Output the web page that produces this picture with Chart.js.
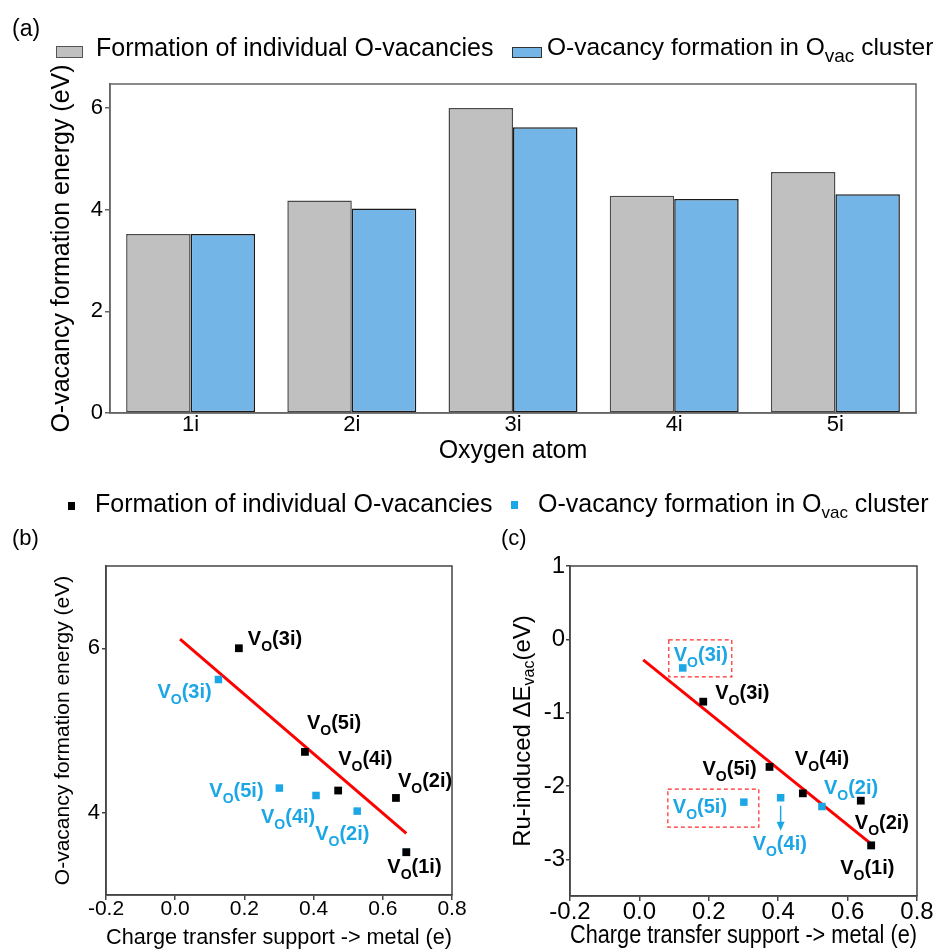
<!DOCTYPE html>
<html>
<head>
<meta charset="utf-8">
<script src="https://cdn.jsdelivr.net/npm/chart.js@4.4.0/dist/chart.umd.min.js"></script>
<style>
  body { margin: 0; width: 942px; height: 952px; background: #fff; position: relative; overflow: hidden;
         font-family: 'Liberation Sans', Arial, Helvetica, sans-serif; }
  canvas { position: absolute; }
  .txt { position: absolute; white-space: nowrap; line-height: 1; color: #000; z-index: 2; }
  .sw { position: absolute; box-sizing: border-box; z-index: 2; }
  .sub { position: relative; }
</style>
</head>
<body>
<div class="txt" style="left:12px; top:16.5px; font-size:23px;">(a)</div>
<div class="sw" style="left:56px; top:46px; width:27px; height:12px; background:#C0C0C0; border:1px solid #555;"></div>
<div class="txt" style="left:96px; top:34.8px; font-size:25px;">Formation of individual O-vacancies</div>
<div class="sw" style="left:512px; top:47px; width:30px; height:11px; background:#74B5E8; border:1px solid #333;"></div>
<div class="txt" style="left:547px; top:35.2px; font-size:24.5px;">O-vacancy formation in O<span class="sub" style="font-size:19px; top:7px;">vac</span> cluster</div>

<div class="sw" style="left:67.5px; top:502px; width:7.5px; height:7.5px; background:#000;"></div>
<div class="txt" style="left:95px; top:490.8px; font-size:25px;">Formation of individual O-vacancies</div>
<div class="sw" style="left:510.5px; top:501px; width:7.5px; height:7.5px; background:#1BA6E5;"></div>
<div class="txt" style="left:538px; top:490.8px; font-size:25px;">O-vacancy formation in O<span class="sub" style="font-size:17px; top:6px;">vac</span> cluster</div>

<div class="txt" style="left:12px; top:527.4px; font-size:22px;">(b)</div>
<div class="txt" style="left:501px; top:527.4px; font-size:22px;">(c)</div>

<canvas id="barChart" width="942" height="470" style="left:0; top:0;"></canvas>
<canvas id="chartB" width="470" height="432" style="left:0; top:520px;"></canvas>
<canvas id="chartC" width="472" height="432" style="left:470px; top:520px;"></canvas>

<script>
// ---- data ----
const categories = ['1i', '2i', '3i', '4i', '5i'];
const individualE = [3.52, 4.18, 6.00, 4.27, 4.74];     // eV, grey bars / black squares
const clusterE = [3.52, 4.02, 5.62, 4.21, 4.30];        // eV, blue bars / blue squares
const chargeIndividual = [0.668, 0.638, 0.184, 0.471, 0.375];  // e
const chargeCluster = [0.668, 0.526, 0.125, 0.407, 0.301];     // e
const dEvacIndividual = [-2.81, -2.20, -0.85, -2.10, -1.74];   // eV
const dEvacCluster = [-2.81, -2.28, -0.39, -2.16, -2.22];      // eV
const fitBx = [0.014, 0.668];
const fitBy = [6.11, 3.75];
const fitCx = [0.011, 0.665];
const fitCy = [-0.28, -2.78];
const energyTicksA = [0, 2, 4, 6];
const energyTicksB = [4, 6];
const dEvacTicks = [-3, -2, -1, 0, 1];
const chargeTicks = [-0.2, 0, 0.2, 0.4, 0.6, 0.8];

const FONT = "'Liberation Sans', Arial, Helvetica, sans-serif";
const BLUE_PT = '#1BA6E5';

const toPoints = (xs, ys) => xs.map((x, i) => ({ x: x, y: ys[i] }));
const fixedTicks = list => scale => { scale.ticks = list.map(v => ({ value: v })); };

const framePlugin = {
  id: 'frame',
  afterDatasetsDraw(chart, args, opts) {
    const { left, top, right, bottom } = chart.chartArea;
    const ctx = chart.ctx;
    ctx.save();
    ctx.strokeStyle = opts.color || '#555';
    ctx.lineWidth = 1.5;
    ctx.strokeRect(left, top, right - left, bottom - top);
    ctx.restore();
  }
};

function drawVLabel(ctx, site, x, y, color) {
  ctx.save();
  ctx.fillStyle = color;
  ctx.textAlign = 'left';
  ctx.textBaseline = 'alphabetic';
  ctx.font = 'bold 20px ' + FONT;
  ctx.fillText('V', x, y);
  let cx = x + ctx.measureText('V').width;
  ctx.font = 'bold 14px ' + FONT;
  ctx.fillText('O', cx, y + 6);
  cx += ctx.measureText('O').width;
  ctx.font = 'bold 20px ' + FONT;
  ctx.fillText('(' + site + ')', cx, y);
  ctx.restore();
}

// label offsets (px) from their own point
const labelsB = [
  { ds: 0, i: 2, dx: 9, dy: -3 }, { ds: 0, i: 4, dx: 2, dy: -23 }, { ds: 0, i: 3, dx: 0, dy: -26 },
  { ds: 0, i: 1, dx: 2, dy: -11 }, { ds: 0, i: 0, dx: -19, dy: 21 },
  { ds: 1, i: 2, dx: -61, dy: 18 }, { ds: 1, i: 4, dx: -70, dy: 9 }, { ds: 1, i: 3, dx: -55, dy: 28 },
  { ds: 1, i: 1, dx: -42, dy: 29 }
];
const labelsC = [
  { ds: 0, i: 2, dx: 12, dy: -3 }, { ds: 0, i: 4, dx: -67, dy: 8 }, { ds: 0, i: 3, dx: -8, dy: -28 },
  { ds: 0, i: 1, dx: -6, dy: 28 }, { ds: 0, i: 0, dx: -31, dy: 29 },
  { ds: 1, i: 2, dx: -9, dy: -7 }, { ds: 1, i: 4, dx: -71, dy: 11 }, { ds: 1, i: 3, dx: -28, dy: 52 },
  { ds: 1, i: 1, dx: 2, dy: -13 }
];

function siteLabels(items, extras) {
  return {
    id: 'siteLabels',
    afterDatasetsDraw(chart) {
      items.forEach(it => {
        const el = chart.getDatasetMeta(it.ds).data[it.i];
        drawVLabel(chart.ctx, categories[it.i], el.x + it.dx, el.y + it.dy, it.ds === 0 ? '#000' : BLUE_PT);
      });
      if (extras) extras(chart);
    }
  };
}

// dashed boxes + arrow + y title for panel (c)
function extrasC(chart) {
  const ctx = chart.ctx;
  const blue = chart.getDatasetMeta(1).data;
  ctx.save();
  ctx.strokeStyle = '#FF2A2A';
  ctx.lineWidth = 1.2;
  ctx.setLineDash([4, 3]);
  [{ i: 2, x0: -14, x1: 49, y0: -28, y1: 9 }, { i: 4, x0: -76, x1: 15, y0: -13, y1: 25 }].forEach(b => {
    const p = blue[b.i];
    ctx.strokeRect(p.x + b.x0, p.y + b.y0, b.x1 - b.x0, b.y1 - b.y0);
  });
  ctx.setLineDash([]);
  const a = blue[3];
  ctx.strokeStyle = BLUE_PT;
  ctx.fillStyle = BLUE_PT;
  ctx.lineWidth = 1.5;
  ctx.beginPath();
  ctx.moveTo(a.x, a.y + 8);
  ctx.lineTo(a.x, a.y + 27);
  ctx.stroke();
  ctx.beginPath();
  ctx.moveTo(a.x - 4, a.y + 24);
  ctx.lineTo(a.x + 4, a.y + 24);
  ctx.lineTo(a.x, a.y + 33);
  ctx.closePath();
  ctx.fill();
  ctx.restore();

  // rotated y-axis title with subscript
  const area = chart.chartArea;
  ctx.save();
  ctx.translate(chart.scales.y.left + 53, (area.top + area.bottom) / 2);
  ctx.rotate(-Math.PI / 2);
  ctx.fillStyle = '#000';
  ctx.textBaseline = 'middle';
  ctx.textAlign = 'left';
  const main = '24px ' + FONT, small = '16px ' + FONT;
  ctx.font = main;
  const w1 = ctx.measureText('Ru-induced \u0394E').width;
  const w3 = ctx.measureText('(eV)').width;
  ctx.font = small;
  const w2 = ctx.measureText('vac').width;
  let x = -(w1 + w2 + w3) / 2;
  ctx.font = main;
  ctx.fillText('Ru-induced \u0394E', x, 0);
  x += w1;
  ctx.font = small;
  ctx.fillText('vac', x, 7);
  x += w2;
  ctx.font = main;
  ctx.fillText('(eV)', x, 0);
  ctx.restore();
}

// ---- (a) bar chart ----
new Chart(document.getElementById('barChart'), {
  type: 'bar',
  data: {
    labels: categories,
    datasets: [
      { label: 'Formation of individual O-vacancies', data: individualE, backgroundColor: '#C0C0C0',
        borderColor: '#4a4a4a', borderWidth: 1.5, borderSkipped: false, categoryPercentage: 0.8, barPercentage: 1.0 },
      { label: 'O-vacancy formation in Ovac cluster', data: clusterE, backgroundColor: '#74B5E8',
        borderColor: '#1a1a1a', borderWidth: 1.5, borderSkipped: false, categoryPercentage: 0.8, barPercentage: 1.0 }
    ]
  },
  options: {
    responsive: false,
    animation: false,
    devicePixelRatio: 1,
    layout: { padding: { top: 84, right: 26, left: 0, bottom: 0 } },
    plugins: { legend: { display: false }, tooltip: { enabled: false }, frame: { color: '#666' } },
    scales: {
      x: {
        grid: { display: false, drawTicks: false },
        border: { color: '#666', width: 1.5 },
        ticks: { color: '#000', padding: 1, font: { size: 22, family: FONT, lineHeight: 1 } },
        title: { display: true, text: 'Oxygen atom', color: '#000', font: { size: 25, family: FONT },
                 padding: { top: 0, bottom: 4 } },
        afterFit: s => { s.height = 57; }
      },
      y: {
        min: 0, max: 6.47,
        afterBuildTicks: fixedTicks(energyTicksA),
        grid: { drawOnChartArea: false, drawTicks: true, tickLength: 5, color: '#666', lineWidth: 1.5 },
        border: { color: '#666', width: 1.5 },
        ticks: { color: '#000', padding: 2, font: { size: 22, family: FONT } },
        title: { display: true, text: 'O-vacancy formation energy (eV)', color: '#000',
                 font: { size: 25, family: FONT }, padding: { top: 47, bottom: 0 } },
        afterFit: s => { s.width = 110; }
      }
    }
  },
  plugins: [framePlugin]
});

function scatterConfig(o) {
  return {
    type: 'scatter',
    data: {
      datasets: [
        { label: 'Formation of individual O-vacancies', data: o.black, pointStyle: 'rect', pointRadius: 5.5,
          backgroundColor: '#000', borderColor: '#000', borderWidth: 0 },
        { label: 'O-vacancy formation in Ovac cluster', data: o.blue, pointStyle: 'rect', pointRadius: 5.3,
          backgroundColor: BLUE_PT, borderColor: BLUE_PT, borderWidth: 0 },
        { label: 'fit', data: o.fit, showLine: true, borderColor: '#FF0000', borderWidth: 3,
          pointRadius: 0, backgroundColor: '#FF0000' }
      ]
    },
    options: {
      responsive: false,
      animation: false,
      devicePixelRatio: 1,
      layout: { padding: { top: 46, right: o.padRight, left: 0, bottom: 0 } },
      plugins: { legend: { display: false }, tooltip: { enabled: false }, frame: { color: '#444' } },
      scales: {
        x: {
          type: 'linear', min: -0.2, max: 0.8,
          afterBuildTicks: fixedTicks(chargeTicks),
          grid: { drawOnChartArea: false, drawTicks: true, tickLength: 5, color: '#444', lineWidth: 1.5 },
          border: { color: '#444', width: 1.5 },
          ticks: { color: '#000', padding: o.xTickPad, callback: v => v.toFixed(1),
                   font: { size: o.tickSize, family: FONT, lineHeight: 1 } },
          title: { display: true, text: 'Charge transfer support -> metal (e)', color: '#000',
                   font: { size: o.xTitleSize, family: FONT }, padding: { top: 0, bottom: o.xTitlePad } },
          afterFit: s => { s.height = o.xHeight; }
        },
        y: {
          min: o.yMin, max: o.yMax,
          afterBuildTicks: fixedTicks(o.yTicks),
          grid: { drawOnChartArea: false, drawTicks: true, tickLength: 4, color: '#444', lineWidth: 1.5 },
          border: { color: '#444', width: 1.5 },
          ticks: { color: '#000', padding: o.yTickPad, font: { size: o.yTickSize || o.tickSize, family: FONT } },
          title: { display: !!o.yTitle, text: o.yTitle || '', color: '#000',
                   font: { size: 21, family: FONT }, padding: { top: 51, bottom: 0 } },
          afterFit: s => { s.width = o.yWidth; }
        }
      }
    }
  };
}

// ---- (b) ----
const cfgB = scatterConfig({
  black: toPoints(chargeIndividual, individualE),
  blue: toPoints(chargeCluster, clusterE),
  fit: toPoints(fitBx, fitBy),
  yMin: 3, yMax: 7, yTicks: energyTicksB,
  yTitle: 'O-vacancy formation energy (eV)',
  tickSize: 21, yTickSize: 22, xTitleSize: 22, xTitlePad: 0.5, xTickPad: -1, yTickPad: 2,
  yWidth: 106, xHeight: 57, padRight: 18
});
cfgB.plugins = [framePlugin, siteLabels(labelsB)];
new Chart(document.getElementById('chartB'), cfgB);

// ---- (c) ----
const cfgC = scatterConfig({
  black: toPoints(chargeIndividual, dEvacIndividual),
  blue: toPoints(chargeCluster, dEvacCluster),
  fit: toPoints(fitCx, fitCy),
  yMin: -3.5, yMax: 1, yTicks: dEvacTicks,
  yTitle: null,
  tickSize: 24, xTitleSize: 25, xTitlePad: 0.75, xTickPad: -1, yTickPad: 1,
  yWidth: 100, xHeight: 56, padRight: 25
});
cfgC.plugins = [framePlugin, siteLabels(labelsC, extrasC)];
new Chart(document.getElementById('chartC'), cfgC);
</script>
</body>
</html>
